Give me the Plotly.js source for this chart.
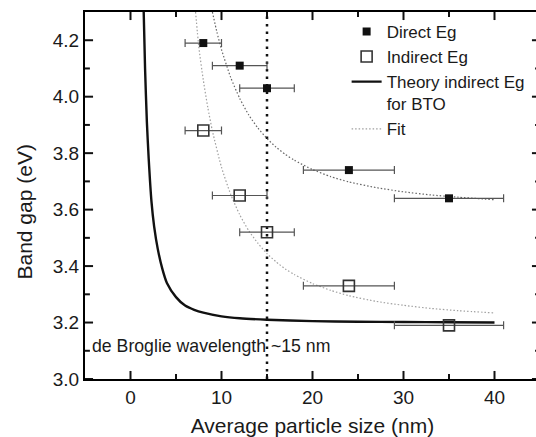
<!DOCTYPE html>
<html>
<head>
<meta charset="utf-8">
<script src="https://cdn.plot.ly/plotly-3.0.1.min.js"></script>
<style>
  html, body { margin: 0; padding: 0; overflow: hidden; background: #fff; }
  #chart { width: 540px; height: 437px; }
</style>
</head>
<body>
<div id="chart"></div>
<script>
// ---- data ----
const particleSize = [8, 12, 15, 24, 35];
const sizeErr = [2, 3, 3, 5, 6];
const directEg = [4.19, 4.11, 4.03, 3.74, 3.64];
const indirectEg = [3.88, 3.65, 3.52, 3.33, 3.19];

const theoryX = [1.45, 1.6, 1.8, 2.0, 2.3, 2.6, 3.0, 3.5, 4.0, 5.0, 6.0, 7.0, 8.0, 10, 12, 15, 20, 25, 30, 35, 40];
const theoryY = [4.30, 4.10, 3.91, 3.78, 3.63, 3.54, 3.46, 3.39, 3.34, 3.29, 3.26, 3.245, 3.235, 3.222, 3.215, 3.21, 3.205, 3.203, 3.202, 3.201, 3.20];

const fitDirectX = [9.0, 9.5, 10, 11, 12, 13, 14, 15, 16, 17, 18, 20, 22, 24, 27, 30, 33, 36, 40];
const fitDirectY = [4.30, 4.228, 4.167, 4.069, 3.994, 3.935, 3.889, 3.852, 3.821, 3.796, 3.775, 3.742, 3.717, 3.698, 3.678, 3.663, 3.652, 3.644, 3.635];

const fitIndirectX = [7.15, 7.5, 8, 8.5, 9, 10, 11, 12, 13, 14, 15, 16, 17, 18, 20, 22, 24, 27, 30, 33, 36, 40];
const fitIndirectY = [4.30, 4.178, 4.059, 3.961, 3.879, 3.75, 3.655, 3.582, 3.525, 3.481, 3.444, 3.415, 3.39, 3.37, 3.338, 3.314, 3.295, 3.275, 3.261, 3.25, 3.242, 3.234];

const deBroglieX = [15, 15];
const deBroglieY = [3.0, 4.3];
const xRange = [-5, 45];
const yRange = [3.0, 4.3];

// axis tick positions (majors carry labels, minors are unlabeled)
const xMajorTicks = [0, 10, 20, 30, 40];
const xMinorTicks = [5, 15, 25, 35];
const yMajorTicks = [3.0, 3.2, 3.4, 3.6, 3.8, 4.0, 4.2];
const yMinorTicks = [3.1, 3.3, 3.5, 3.7, 3.9, 4.1];

const FONT = 'Liberation Sans, Arial, sans-serif';
const INK = '#111';

const errStyle = {type: 'data', array: sizeErr, visible: true, color: '#555', thickness: 1.2, width: 4};

// inward tick marks on all four sides: line symbols centred on the frame, the outer half clipped away
function edgeTicks(vals, onX, size) {
  const a = [], b = [];
  vals.forEach(v => {
    if (onX) { a.push(v, v); b.push(yRange[0], yRange[1]); }
    else { a.push(xRange[0], xRange[1]); b.push(v, v); }
  });
  return {
    x: a, y: b, mode: 'markers', showlegend: false, hoverinfo: 'skip', cliponaxis: true,
    marker: {symbol: onX ? 'line-ns' : 'line-ew', size: size, color: INK, line: {color: INK, width: 2}}
  };
}

const traces = [
  edgeTicks(xMajorTicks, true, 11.5),
  edgeTicks(xMinorTicks, true, 7),
  edgeTicks(yMajorTicks, false, 11.5),
  edgeTicks(yMinorTicks, false, 7),
  {x: deBroglieX, y: deBroglieY, mode: 'lines', showlegend: false, hoverinfo: 'skip',
   line: {color: INK, width: 2.5, dash: '2.5px,5px'}},
  {x: theoryX, y: theoryY, mode: 'lines', name: 'Theory indirect Eg<br>for BTO',
   line: {color: INK, width: 2.4, shape: 'spline', smoothing: 0.6}, legendrank: 3},
  {x: fitDirectX, y: fitDirectY, mode: 'lines', name: 'Fit', showlegend: false,
   line: {color: '#666', width: 1.2, dash: '1.5px,2px', shape: 'spline', smoothing: 0.6}},
  {x: fitIndirectX, y: fitIndirectY, mode: 'lines', name: 'Fit',
   line: {color: '#a0a0a0', width: 1.2, dash: '1.5px,2px', shape: 'spline', smoothing: 0.6}, legendrank: 4},
  {x: particleSize, y: directEg, mode: 'markers', name: 'Direct Eg', error_x: errStyle,
   marker: {symbol: 'square', size: 8, color: INK}, legendrank: 1},
  {x: particleSize, y: indirectEg, mode: 'markers', name: 'Indirect Eg', error_x: errStyle,
   marker: {symbol: 'square-open', size: 11, color: '#333', line: {width: 1.6, color: '#333'}}, legendrank: 2}
];

const layout = {
  width: 540, height: 437,
  margin: {l: 85, r: 0, t: 12, b: 58},
  xaxis: {
    range: xRange, tickmode: 'array', tickvals: xMajorTicks,
    showline: true, linecolor: '#000', linewidth: 2, mirror: true,
    ticks: '', showgrid: false, zeroline: false,
    tickfont: {family: FONT, size: 19, color: '#1a1a1a'},
    title: {text: 'Average particle size (nm)', font: {family: FONT, size: 21, color: '#1a1a1a'}}
  },
  yaxis: {
    range: yRange, tickmode: 'array', tickvals: yMajorTicks,
    showline: true, linecolor: '#000', linewidth: 2, mirror: true,
    ticks: '', showgrid: false, zeroline: false,
    tickformat: '.1f',
    tickfont: {family: FONT, size: 19, color: '#1a1a1a'},
    title: {text: 'Band gap (eV)\u2003\u00a0\u00a0\u200b', font: {family: FONT, size: 21, color: '#1a1a1a'}}
  },
  annotations: [{
    xref: 'x', yref: 'y', x: -4.45, y: 3.118, xanchor: 'left', yanchor: 'middle',
    text: 'de Broglie wavelength ~15 nm', showarrow: false,
    font: {family: FONT, size: 17.7, color: '#1a1a1a'}
  }],
  legend: {
    x: 0.575, y: 0.995, xanchor: 'left', yanchor: 'top',
    bgcolor: 'rgba(0,0,0,0)', borderwidth: 0, valign: 'top',
    font: {family: FONT, size: 17, color: '#1a1a1a'}
  },
  showlegend: true
};

Plotly.newPlot('chart', traces, layout, {displayModeBar: false});
</script>
</body>
</html>
